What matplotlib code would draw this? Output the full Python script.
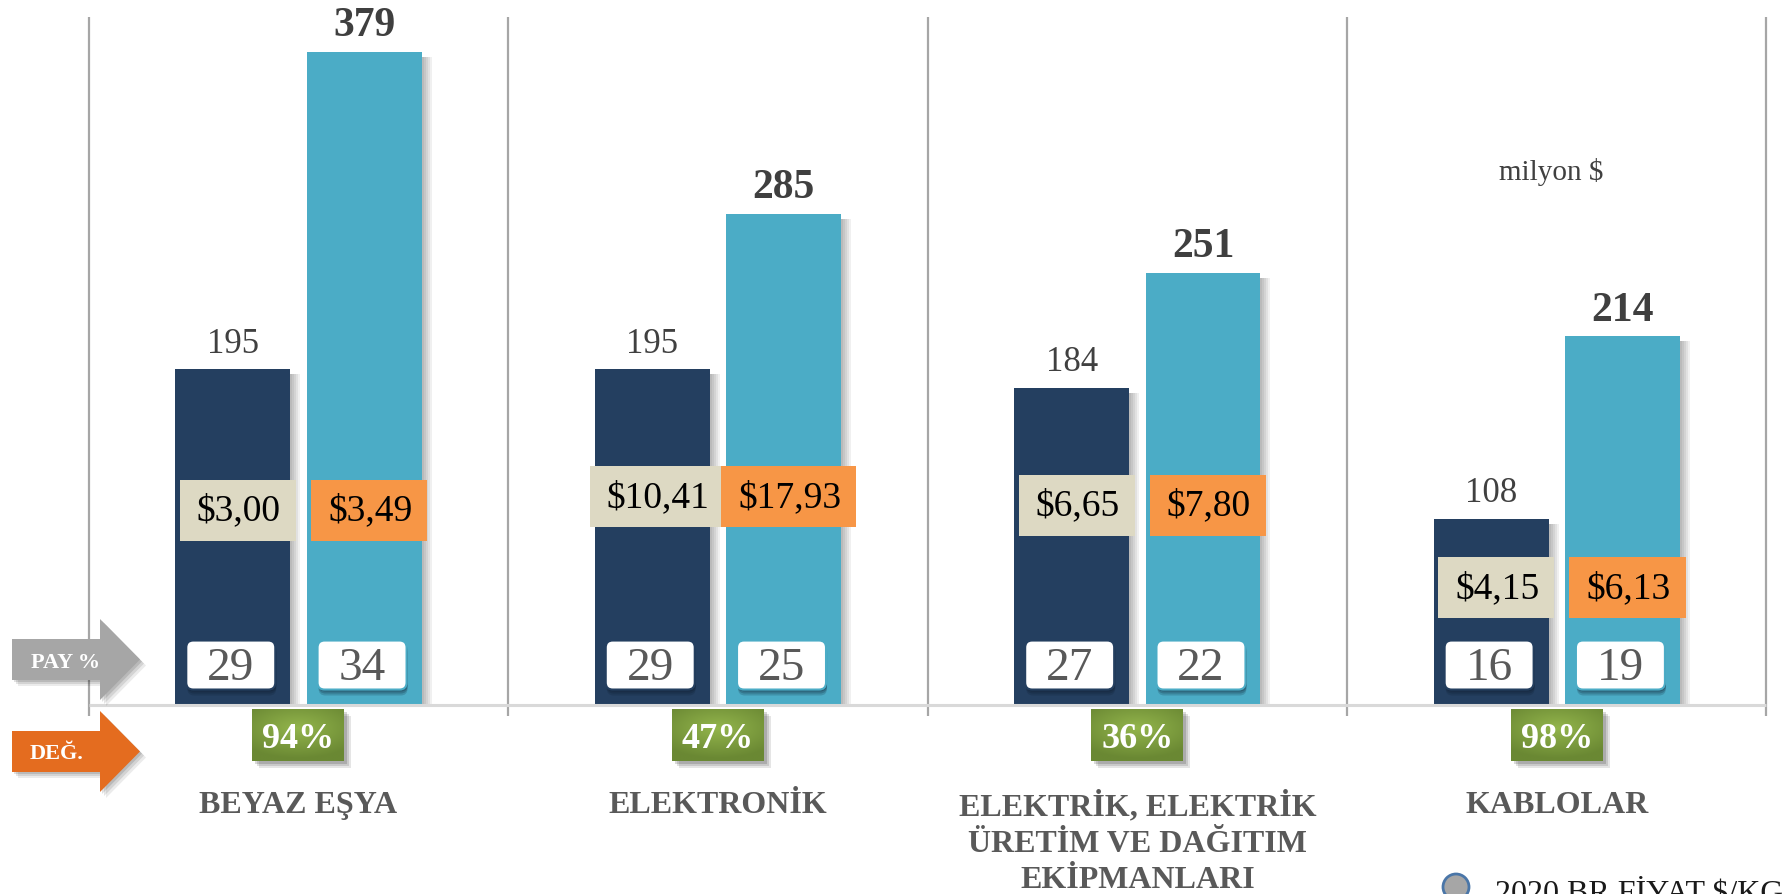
import matplotlib
matplotlib.use("Agg")
import matplotlib.pyplot as plt
import numpy as np
from matplotlib.patches import Rectangle, FancyBboxPatch, Polygon, Circle

# ---------------- data ----------------
categories = ["BEYAZ EŞYA", "ELEKTRONİK",
              "ELEKTRİK, ELEKTRİK\nÜRETİM VE DAĞITIM\nEKİPMANLARI", "KABLOLAR"]
export_2019 = [195, 195, 184, 108]
export_2020 = [379, 285, 251, 214]
price_2019 = ["$3,00", "$10,41", "$6,65", "$4,15"]
price_2020 = ["$3,49", "$17,93", "$7,80", "$6,13"]
share_2019 = [29, 29, 27, 16]
share_2020 = [34, 25, 22, 19]
change_pct = [94, 47, 36, 98]
unit_label = "milyon $"
legend_label = "2020 BR FİYAT $/KG"
share_label = "PAY %"
change_label = "DEĞ."

# ---------------- layout / style ----------------
W, H = 1783, 894
SERIF = ["Liberation Serif", "DejaVu Serif"]
DARK = "#243F60"
LIGHT = "#4BACC6"
BEIGE = "#DDD9C3"
ORANGE = "#F79646"
price_y_frac = [0.58, 0.62, 0.63, 0.63]   # vertical placement of price boxes (share of dark bar)

fig = plt.figure(figsize=(W / 100, H / 100), dpi=100)
ax_l, ax_r, ax_t, ax_b = 88.7, 1766.5, 17, 705
ax = fig.add_axes([ax_l / W, 1 - ax_b / H, (ax_r - ax_l) / W, (ax_b - ax_t) / H])
n = len(categories)
ymax = 399.3
ax.set_xlim(-0.5, n - 0.5)
ax.set_ylim(0, ymax)
ax.axis("off")

x = np.arange(n)
off, bw = 0.1565, 0.274

# bar shadows
for k in range(1, 6):
    sx = k * 2 / 419.45
    ax.bar(x - off + sx, np.array(export_2019) - 3, bw, color="#000000", alpha=0.06, zorder=2)
    ax.bar(x + off + sx, np.array(export_2020) - 3, bw, color="#000000", alpha=0.06, zorder=2)

ax.bar(x - off, export_2019, bw, color=DARK, zorder=3)
ax.bar(x + off, export_2020, bw, color=LIGHT, zorder=3)

# value labels
for xi, v in zip(x, export_2019):
    ax.annotate(str(v), (xi - off, v), xytext=(0, 18), textcoords="offset points",
                ha="center", va="center", fontsize=25, color="#404040", family=SERIF, zorder=5)
for xi, v in zip(x, export_2020):
    ax.annotate(str(v), (xi + off, v), xytext=(0, 18.5), textcoords="offset points",
                ha="center", va="center", fontsize=30, fontweight="bold", color="#3F3F3F",
                family=SERIF, zorder=5)

# dividers and baseline
ax.vlines(np.arange(-0.5, n), -6.4, ymax, color="#A6A6A6", lw=1.6, clip_on=False, zorder=1)
ax.plot([-0.5, n - 0.5], [0, 0], color="#D9D9D9", lw=2.2, clip_on=False, zorder=4, solid_capstyle="butt")

# ---------------- overlay in pixel coordinates ----------------
ov = fig.add_axes([0, 0, 1, 1])
ov.set_xlim(0, W)
ov.set_ylim(H, 0)
ov.axis("off")


def to_px(xd, yd):
    X, Y = ax.transData.transform((xd, yd))
    return X, H - Y


fig.canvas.draw()
renderer = fig.canvas.get_renderer()

# price boxes
for i in range(n):
    for lab, bx, col in ((price_2019[i], x[i] - off, BEIGE), (price_2020[i], x[i] + off, ORANGE)):
        cx, cy = to_px(bx, export_2019[i] * price_y_frac[i])
        cx += 5
        t = ov.text(cx + 1, cy + 1, lab, ha="center", va="center", fontsize=27, color="#000000",
                    family=SERIF, zorder=6)
        tw = t.get_window_extent(renderer).width
        bwid = tw + 32
        ov.add_patch(Rectangle((cx - bwid / 2, cy - 30.5), bwid, 61, facecolor=col,
                               edgecolor="none", zorder=5))

# share boxes
for i in range(n):
    for val, bx, col in ((share_2019[i], x[i] - off, DARK), (share_2020[i], x[i] + off, LIGHT)):
        cx, _ = to_px(bx, 0)
        _, cy = to_px(0, 23.2)
        cx -= 2
        bwid, bh = 89, 49
        # shadow
        for k, a in ((6, 0.18), (4, 0.22), (2, 0.25)):
            ov.add_patch(FancyBboxPatch((cx - bwid / 2 + 1, cy - bh / 2 + k), bwid, bh,
                                        boxstyle="round,pad=0,rounding_size=7",
                                        facecolor="#0d1a2a", edgecolor="none", alpha=a, zorder=5))
        ov.add_patch(FancyBboxPatch((cx - bwid / 2, cy - bh / 2), bwid, bh,
                                    boxstyle="round,pad=0,rounding_size=7",
                                    facecolor="white", edgecolor=col, lw=1.5, zorder=6))
        ov.text(cx, cy + 4, str(val), ha="center", va="center", fontsize=34, color="#595959",
                family=SERIF, zorder=7)

# change boxes (green gradient)
yy, xx = np.mgrid[-1:1:60j, -1:1:100j]
rr = np.clip(np.sqrt((xx * 0.9) ** 2 + (yy * 1.1 + 0.3) ** 2) / 1.3, 0, 1)
c_in = np.array([0x93, 0xB5, 0x4C]) / 255
c_out = np.array([0x6A, 0x88, 0x33]) / 255
grad = c_in[None, None, :] * (1 - rr[..., None]) + c_out[None, None, :] * rr[..., None]
for i in range(n):
    cx, _ = to_px(x[i], 0)
    cy = 735
    gw, gh = 92, 52
    for k, a in ((7, 0.10), (5, 0.12), (3, 0.15)):
        ov.add_patch(Rectangle((cx - gw / 2 + k, cy - gh / 2 + k), gw, gh, facecolor="#000000",
                               alpha=a, edgecolor="none", zorder=5))
    ov.imshow(grad, extent=(cx - gw / 2, cx + gw / 2, cy + gh / 2, cy - gh / 2),
              aspect="auto", zorder=6, interpolation="bilinear")
    ov.text(cx, cy + 4, f"{change_pct[i]}%", ha="center", va="center", fontsize=26,
            fontweight="bold", color="white", family=SERIF, zorder=7)

# category labels
for i in range(n):
    cx, _ = to_px(x[i], 0)
    ov.text(cx, 791, categories[i], ha="center", va="top", fontsize=23, fontweight="bold",
            color="#595959", family=SERIF, linespacing=1.32, zorder=7)

# arrows
def arrow(y0, col):
    pts = [(12, y0), (100, y0), (100, y0 - 20), (140, y0 + 20.5), (100, y0 + 61),
           (100, y0 + 41), (12, y0 + 41)]
    for k, a in ((6, 0.08), (4, 0.10), (2, 0.12)):
        ov.add_patch(Polygon([(px + k, py + k) for px, py in pts], closed=True,
                             facecolor="#000000", alpha=a, edgecolor="none", zorder=5))
    ov.add_patch(Polygon(pts, closed=True, facecolor=col, edgecolor="none", zorder=6))


arrow(639, "#A6A6A6")
arrow(731, "#E46C1F")
ov.text(66, 663, share_label, ha="center", va="center", fontsize=16, fontweight="bold",
        color="white", family=SERIF, zorder=7)
ov.text(57, 754, change_label, ha="center", va="center", fontsize=16, fontweight="bold",
        color="white", family=SERIF, zorder=7)

# unit label
ov.text(1551, 172, unit_label, ha="center", va="center", fontsize=21, color="#404040",
        family=SERIF, zorder=7)

# legend (cut off at bottom like the reference)
ov.add_patch(Circle((1456, 887), 13, facecolor="#A6A6A6", edgecolor="#4A76A8", lw=2, zorder=7))
ov.text(1495, 902, legend_label, ha="left", va="baseline", fontsize=23, color="#1A1A1A",
        family=SERIF, zorder=7)

ov.set_xlim(0, W)
ov.set_ylim(H, 0)
fig.savefig("out.png", dpi=100)
